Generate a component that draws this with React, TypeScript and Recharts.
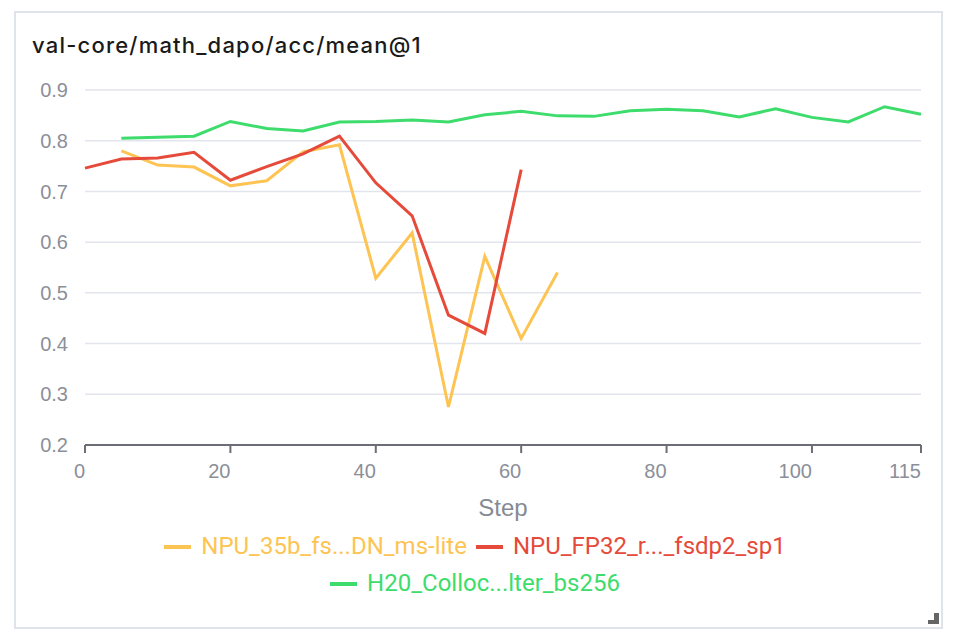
import React from 'react';
import { LineChart, Line, XAxis, YAxis, CartesianGrid, Legend } from 'recharts';

const titleText = 'val-core/math_dapo/acc/mean@1';
const steps = [0, 5, 10, 15, 20, 25, 30, 35, 40, 45, 50, 55, 60, 65, 70, 75, 80, 85, 90, 95, 100, 105, 110, 115];
const npu35bValues = [null, 0.780, 0.752, 0.748, 0.711, 0.721, 0.778, 0.792, 0.529, 0.618, 0.275, 0.572, 0.410, 0.540];
const npuFp32Values = [0.746, 0.764, 0.766, 0.777, 0.722, 0.749, 0.774, 0.809, 0.717, 0.652, 0.456, 0.420, 0.743];
const h20Values = [null, 0.805, 0.807, 0.809, 0.838, 0.824, 0.819, 0.837, 0.838, 0.841, 0.837, 0.851, 0.858, 0.849, 0.848, 0.859, 0.862, 0.859, 0.847, 0.863, 0.846, 0.837, 0.867, 0.852];
const seriesKeys = ['a', 'b', 'c'];
const seriesNames = ['NPU_35b_fs...DN_ms-lite', 'NPU_FP32_r..._fsdp2_sp1', 'H20_Colloc...lter_bs256'];
const seriesColors = ['#fdc453', '#e54a3a', '#3ddc6c'];
const xTicks = [0, 20, 40, 60, 80, 100, 115];
const yTicks = [0.2, 0.3, 0.4, 0.5, 0.6, 0.7, 0.8, 0.9];
const xLabel = 'Step';

const data = steps.map((s, i) => ({
  step: s,
  a: npu35bValues[i] ?? null,
  b: npuFp32Values[i] ?? null,
  c: h20Values[i] ?? null,
}));

const TICK_FONT = '"Liberation Sans", Arial, sans-serif';
const TICK_COLOR = '#8b8f99';

const XTick = (props: any) => {
  const { x, y, payload } = props;
  return (
    <text x={x} y={y} dy={25} textAnchor="end" fill={TICK_COLOR} fontSize={20} fontFamily={TICK_FONT}>
      {payload.value}
    </text>
  );
};

const LegendContent = () => {
  return (
    <div style={{ height: 74, display: 'flex', justifyContent: 'center' }}>
      <div style={{ maxWidth: 660, display: 'flex', flexWrap: 'wrap', justifyContent: 'center', alignContent: 'flex-start' }}>
        {seriesNames.map((name, i) => (
          <div key={i} style={{ display: 'flex', alignItems: 'center', height: 37, margin: '0 4.5px' }}>
            <span style={{ display: 'inline-block', width: 27, height: 4, background: seriesColors[i], marginRight: 10 }} />
            <span style={{ color: seriesColors[i], fontSize: 24, fontFamily: 'Roboto, sans-serif', lineHeight: '37px', whiteSpace: 'nowrap' }}>{name}</span>
          </div>
        ))}
      </div>
    </div>
  );
};

export default function App() {
  return (
    <div style={{ position: 'absolute', left: 0, top: 0, width: 964, height: 638, background: '#fff', overflow: 'hidden' }}>
      <div style={{ position: 'absolute', left: 14, top: 11, width: 925, height: 614, border: '2px solid #dfe3ea' }} />
      <div style={{ position: 'absolute', left: 32, top: 33, fontSize: 22, lineHeight: '24px', fontWeight: 500, letterSpacing: 1.2, color: '#1a1a1a', fontFamily: 'Inter, "Noto Sans", Arial, sans-serif', whiteSpace: 'nowrap' }}>
        {titleText}
      </div>
      <div style={{ position: 'absolute', left: 0, top: 0 }}>
        <LineChart width={964} height={638} data={data} margin={{ top: 90, right: 43, bottom: 39, left: 35 }}>
          <CartesianGrid vertical={false} stroke="#e2e5ed" strokeWidth={1.5} />
          <XAxis
            dataKey="step"
            type="number"
            domain={[0, 115]}
            ticks={xTicks}
            interval={0}
            height={80}
            stroke="#6b6e75"
            strokeWidth={2}
            tickSize={8}
            tickMargin={0}
            tick={<XTick />}
            label={{ value: xLabel, position: 'insideBottom', offset: 9, fontSize: 24, fill: '#858a94', fontFamily: TICK_FONT }}
          />
          <YAxis
            type="number"
            domain={[0.2, 0.9]}
            ticks={yTicks}
            interval={0}
            width={50}
            axisLine={false}
            tickLine={false}
            tickSize={0}
            tickMargin={17}
            tickFormatter={(v: number) => v.toFixed(1)}
            tick={{ fill: TICK_COLOR, fontSize: 20, fontFamily: TICK_FONT }}
          />
          <Legend
            verticalAlign="bottom"
            content={<LegendContent />}
            wrapperStyle={{ left: 0, width: 950, top: 528, bottom: 'auto' }}
          />
          {seriesKeys.map((k, i) => (
            <Line key={k} type="linear" dataKey={k} name={seriesNames[i]} stroke={seriesColors[i]} strokeWidth={3} dot={false} isAnimationActive={false} />
          ))}
        </LineChart>
      </div>
      <div style={{ position: 'absolute', left: 934, top: 613, width: 5, height: 11, background: '#666' }} />
      <div style={{ position: 'absolute', left: 928, top: 620, width: 11, height: 4, background: '#666' }} />
    </div>
  );
}
